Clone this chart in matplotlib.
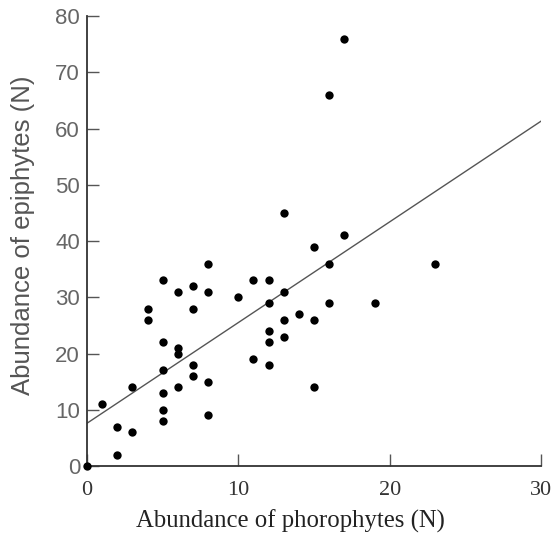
import matplotlib
matplotlib.use("Agg")
import matplotlib.pyplot as plt

# Phorophyte abundance (x) and epiphyte abundance (y) per plot
phorophytes = [0, 1, 2, 2, 3, 3, 4, 4, 5, 5, 5, 5, 5, 5,
               6, 6, 6, 6, 7, 7, 7, 7, 8, 8, 8, 8,
               10, 11, 11, 12, 12, 12, 12, 12, 13, 13, 13, 13,
               14, 15, 15, 15, 16, 16, 16, 17, 17, 19, 23]
epiphytes = [0, 11, 7, 2, 14, 6, 28, 26, 33, 22, 17, 13, 10, 8,
             31, 21, 20, 14, 32, 28, 18, 16, 36, 31, 15, 9,
             30, 33, 19, 33, 29, 24, 22, 18, 45, 31, 26, 23,
             27, 39, 26, 14, 66, 36, 29, 76, 41, 29, 36]

# Fitted regression line: y = intercept + slope * x
fit_intercept = 7.6
fit_slope = 1.79
fit_x = [0, 30]

x_ticks = [0, 10, 20, 30]
y_ticks = [0, 10, 20, 30, 40, 50, 60, 70, 80]

serif = ['Liberation Serif', 'DejaVu Serif']
sans = ['Liberation Sans', 'DejaVu Sans']
plt.rcParams['font.family'] = serif

fig = plt.figure(figsize=(5.54, 5.39), dpi=100)
ax = fig.add_axes([0.157, 0.1354, 0.8195, 0.8349])

ax.scatter(phorophytes, epiphytes, s=36, marker='o', color='black',
           zorder=3, clip_on=False, linewidths=0)
ax.plot(fit_x, [fit_intercept + fit_slope * v for v in fit_x],
        color='#555555', lw=1.0, zorder=2)

ax.set_xlim(0, 30)
ax.set_ylim(0, 80)
ax.set_xticks(x_ticks)
ax.set_yticks(y_ticks)

for side in ('top', 'right'):
    ax.spines[side].set_visible(False)
for side in ('left', 'bottom'):
    ax.spines[side].set_linewidth(1.3)
    ax.spines[side].set_color('#333333')

ax.tick_params(axis='both', direction='in', length=8.5, width=1.0,
               color='#555555')
ax.tick_params(axis='x', pad=11, labelsize=16, labelcolor='#333333')
ax.tick_params(axis='y', pad=5, labelsize=16, labelcolor='#666666')
for lbl in ax.get_yticklabels():
    lbl.set_family(sans)

ax.set_xlabel('Abundance of phorophytes (N)', fontsize=17.8,
              color='#222222')
ax.xaxis.set_label_coords(0.449, -0.097)
ax.set_ylabel('Abundance of epiphytes (N)', fontsize=18.5,
              color='#555555', family=sans)
ax.yaxis.set_label_coords(-0.115, 0.513)

fig.savefig('out.png', dpi=100)
